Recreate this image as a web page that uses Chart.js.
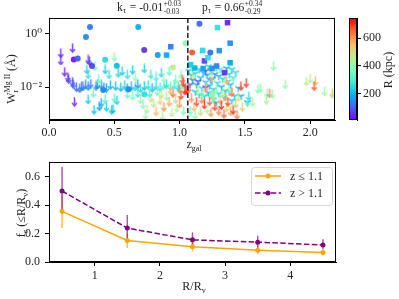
<!DOCTYPE html>
<html><head><meta charset="utf-8">
<script src="https://cdn.jsdelivr.net/npm/chart.js@4.4.1/dist/chart.umd.min.js"></script>
<style>
html,body{margin:0;padding:0;background:#fff;}
#wrap{position:relative;width:399px;height:299px;overflow:hidden;background:#fff;}
.c{position:absolute;}
</style></head><body>
<div id="wrap">
<div class="c" style="left:0;top:0;width:340px;height:160px"><canvas id="top"></canvas></div>
<div class="c" style="left:340px;top:0;width:59px;height:150px"><canvas id="cbar"></canvas></div>
<div class="c" style="left:0;top:150px;width:340px;height:149px"><canvas id="bot"></canvas></div>
</div>
<script>
// ---------------- DATA ----------------
// Detections (circles): z, W (Angstrom), R (kpc)
const circZ = [0.314,0.283,0.19,0.22,0.329,0.43,0.519,0.415,0.683,0.729,0.833,0.949,1.046,1.096,1.152,1.235,0.61,0.73,1.25];
const circW = [1.84,0.77,0.11,0.12,0.062,0.107,0.064,0.0077,1.84,0.25,0.16,0.054,0.45,0.20,2.45,0.20,0.0082,0.0053,0.0054];
const circR = [130,150,30,100,70,250,210,140,190,60,170,470,390,660,110,120,150,260,380];
// Detections (squares)
const sqZ = [1.367,1.29,1.387,1.177,1.304,1.19,1.217,1.116,1.18,1.248,1.283,1.387,1.344,1.084,0.932,0.90];
const sqW = [2.67,1.73,0.45,0.24,0.235,0.096,0.127,0.052,0.05,0.05,0.062,0.082,0.035,0.07,0.33,0.16];
const sqR = [40,260,150,250,160,70,260,200,170,150,140,180,60,230,130,180];
// Upper limits (arrows)
const arrZ = [0.09,0.09,0.18,0.30,0.31,0.12,0.145,0.15,0.18,0.185,0.21,0.235,0.25,0.28,0.30,0.32,0.36,0.37,0.40,0.44,
0.195,0.30,0.345,0.385,0.44,0.48,0.43,0.50,0.52,0.29,0.30,0.35,0.43,0.50,0.53,0.46,0.38,0.34,0.40,0.49,0.26,0.47,0.51,0.42,
0.55,0.58,0.60,0.63,0.66,0.68,0.70,0.73,0.76,0.79,0.82,0.85,0.88,0.90,0.93,0.96,0.99,1.02,
0.56,0.60,0.64,0.73,0.78,0.82,0.86,0.92,0.97,1.01,0.66,0.88,
0.60,0.64,0.70,0.72,0.75,0.74,0.78,0.80,0.82,0.85,0.87,0.88,0.90,0.92,0.94,0.95,0.97,0.98,1.00,1.01,1.03,1.04,0.83,0.77,0.68,0.93,1.00,0.86,1.03,1.05,1.02,
1.07,1.09,1.11,1.13,1.14,1.16,1.17,1.19,1.20,1.21,1.23,1.24,1.25,1.27,1.28,1.30,1.31,1.32,1.34,1.35,1.36,1.37,1.39,1.40,1.41,1.43,1.44,1.45,1.47,1.48,1.08,1.12,1.18,1.26,1.33,1.38,1.25,1.10,1.36,
1.53,1.52,1.51,1.60,1.62,1.665,1.67,1.69,1.71,1.72,1.81,1.97,2.00,2.04,2.03,2.11,2.17,2.17,1.56];
const arrW = [0.19,0.10,0.30,0.11,0.096,0.038,0.024,0.020,0.016,0.013,0.010,0.009,0.011,0.0125,0.011,0.0135,0.011,0.0126,0.0125,0.0095,
0.0028,0.0034,0.0014,0.0019,0.0018,0.0014,0.0035,0.0040,0.0032,0.046,0.030,0.062,0.046,0.14,0.035,0.030,0.020,0.0061,0.0026,0.0015,0.0105,0.012,0.011,0.010,
0.010,0.012,0.009,0.011,0.0105,0.013,0.009,0.011,0.012,0.0095,0.0115,0.010,0.012,0.0135,0.011,0.0125,0.0105,0.012,
0.040,0.030,0.045,0.050,0.030,0.025,0.035,0.040,0.020,0.030,0.025,0.022,
0.0055,0.0048,0.0035,0.0022,0.0015,0.0009,0.0040,0.0025,0.0012,0.0032,0.0008,0.0018,0.0045,0.0028,0.0011,0.0060,0.0035,0.0016,0.0024,0.0050,0.0013,0.0075,0.0070,0.0060,0.0060,0.0075,0.0085,0.0055,0.015,0.008,0.020,
0.009,0.004,0.0018,0.0028,0.0075,0.0012,0.0035,0.0022,0.0095,0.0015,0.003,0.0011,0.0055,0.0019,0.0085,0.0013,0.0032,0.0021,0.0010,0.0045,0.0017,0.0028,0.0012,0.0065,0.0014,0.0024,0.0009,0.0042,0.011,0.0018,0.0013,0.0009,0.0060,0.0040,0.0060,0.0085,0.023,0.030,0.018,
0.0046,0.0028,0.0146,0.0085,0.009,0.0033,0.006,0.0058,0.0055,0.062,0.0126,0.0163,0.021,0.017,0.011,0.0069,0.006,0.0055,0.0027];
const arrR = [40,45,50,60,70,40,60,70,90,100,110,120,130,140,150,120,160,140,180,170,
45,220,210,170,230,220,300,330,230,230,250,330,220,380,240,260,340,330,180,210,140,200,210,150,
200,230,180,210,240,160,250,220,260,200,230,270,300,250,320,280,240,350,
230,260,220,230,270,300,250,330,360,380,400,420,
330,360,420,380,450,400,500,470,560,520,430,600,400,580,470,640,520,440,600,680,380,700,350,300,280,560,620,480,700,720,650,
650,600,550,680,420,500,620,700,580,450,660,600,520,680,400,620,560,700,650,600,520,680,580,640,700,550,620,480,690,530,350,400,380,350,420,380,520,480,560,
250,330,690,370,400,450,380,620,400,400,400,470,450,560,660,400,530,470,440];
// Upper limits (tri-down markers)
const triZ = [1.07,1.09,1.10,1.12,1.13,1.15,1.16,1.17,1.18,1.20,1.21,1.22,1.23,1.24,1.25,1.26,1.27,1.28,1.29,1.30,1.31,1.32,1.33,1.34,1.35,1.36,1.37,1.38,1.39,1.40,1.41,1.43,1.45,
1.12,1.15,1.19,1.22,1.26,1.30,1.34,1.38,1.42,1.08,1.14,1.20,1.24,1.10,1.28,1.40,1.47,1.52,1.20];
const triW = [0.04,0.028,0.018,0.032,0.012,0.045,0.022,0.009,0.035,0.015,0.028,0.06,0.011,0.04,0.02,0.008,0.03,0.055,0.014,0.025,0.045,0.01,0.02,0.035,0.007,0.05,0.016,0.03,0.012,0.045,0.022,0.035,0.009,
0.0065,0.005,0.0045,0.006,0.0035,0.0055,0.004,0.0065,0.0045,0.012,0.016,0.04,0.018,0.05,0.0025,0.003,0.0045,0.0026,0.0094];
const triR = [220,200,170,250,190,240,210,260,200,230,180,250,220,270,200,240,160,230,250,210,280,190,230,260,220,200,250,240,210,230,270,250,220,
200,230,180,210,250,230,260,200,240,100,80,90,120,300,200,220,180,200,60];
// Bottom panel: covering fraction vs R/Rv
const binR = [0.5,1.5,2.5,3.5,4.5];
const fcLow = [0.357,0.152,0.108,0.083,0.067];
const fcLowLo = [0.24,0.099,0.076,0.055,0.046];
const fcLowHi = [0.47,0.20,0.14,0.11,0.088];
const fcHigh = [0.50,0.239,0.156,0.140,0.120];
const fcHighLo = [0.36,0.16,0.11,0.10,0.09];
const fcHighHi = [0.669,0.331,0.209,0.186,0.16];
const zSplit = 1.063;
const kTau = ['-0.01','+0.03','-0.03'];
const pTau = ['0.66','+0.34','-0.29'];
const xTicksTop = [0,0.5,1,1.5,2];
const yTicksTop = [0.01,1];
const cbTicks = [200,400,600];
const xTicksBot = [1,2,3,4];
const yTicksBot = [0,0.2,0.4,0.6];
const Rmin = 14, Rmax = 743;

// ---------------- helpers ----------------
const FAM = "'Liberation Serif', 'DejaVu Serif', serif";
const TXT = '#222';
Chart.defaults.font.family = FAM;
Chart.defaults.font.size = 12;
Chart.defaults.color = TXT;

function rainbow(t){
  t = Math.max(0, Math.min(1, t));
  const r = Math.min(1, Math.abs(2*t - 0.5));
  const g = Math.sin(Math.PI*t);
  const b = Math.cos(Math.PI*t/2);
  return [Math.round(r*255), Math.round(g*255), Math.round(b*255)];
}
function col(R, a){
  const c = rainbow((R - Rmin)/(Rmax - Rmin));
  return `rgba(${c[0]},${c[1]},${c[2]},${a})`;
}
const imgCache = {};
function arrImg(color){
  const k = 'a'+color; if (imgCache[k]) return imgCache[k];
  const cv = document.createElement('canvas'); cv.width = 7; cv.height = 10;
  const c = cv.getContext('2d');
  c.strokeStyle = color; c.lineWidth = 1.5; c.lineJoin = 'miter';
  c.beginPath(); c.moveTo(3.5,0.5); c.lineTo(3.5,8.8);
  c.moveTo(1,6.2); c.lineTo(3.5,9); c.lineTo(6,6.2); c.stroke();
  imgCache[k] = cv; return cv;
}
function triImg(color){
  const k = 't'+color; if (imgCache[k]) return imgCache[k];
  const cv = document.createElement('canvas'); cv.width = 9; cv.height = 9;
  const c = cv.getContext('2d');
  c.strokeStyle = color; c.lineWidth = 1.5;
  c.beginPath();
  c.moveTo(4.5,4.5); c.lineTo(4.5,8.2);
  c.moveTo(4.5,4.5); c.lineTo(4.5-3.2,4.5-1.85);
  c.moveTo(4.5,4.5); c.lineTo(4.5+3.2,4.5-1.85);
  c.stroke();
  imgCache[k] = cv; return cv;
}
function pts(zs, ws){ return zs.map((z,i)=>({x:z, y:ws[i]})); }

function measureParts(ctx, parts){
  let w = 0;
  for (const p of parts){
    if (p.stack){
      ctx.font = p.size+'px '+FAM;
      w += Math.max(ctx.measureText(p.sup).width, ctx.measureText(p.sub).width);
    } else {
      ctx.font = p[1]+'px '+FAM; w += ctx.measureText(p[0]).width + (p[3]||0);
    }
  }
  return w;
}
function drawParts(ctx, parts, x, y){
  ctx.textBaseline = 'alphabetic'; ctx.textAlign = 'left'; ctx.fillStyle = TXT;
  for (const p of parts){
    if (p.stack){
      ctx.font = p.size+'px '+FAM;
      ctx.fillText(p.sup, x, y - p.up);
      ctx.fillText(p.sub, x, y + p.down);
      x += Math.max(ctx.measureText(p.sup).width, ctx.measureText(p.sub).width);
    } else {
      ctx.font = p[1]+'px '+FAM;
      ctx.fillText(p[0], x, y + (p[2]||0));
      x += ctx.measureText(p[0]).width + (p[3]||0);
    }
  }
  return x;
}
function drawCentered(ctx, parts, cx, y){
  const w = measureParts(ctx, parts); drawParts(ctx, parts, cx - w/2, y);
}
function drawVertical(ctx, parts, bx, cy){
  ctx.save(); ctx.translate(bx, cy); ctx.rotate(-Math.PI/2);
  const w = measureParts(ctx, parts); drawParts(ctx, parts, -w/2, 0);
  ctx.restore();
}
function axisStyle(extra){
  return Object.assign({
    grid:{drawOnChartArea:false, drawTicks:true, tickLength:4, color:'#000', lineWidth:1},
    border:{display:true, color:'#000', width:1},
    ticks:{autoSkip:false, maxRotation:0, minRotation:0, color:TXT, font:{size:12, family:FAM}}
  }, extra);
}
function frame(chart){
  const a = chart.chartArea, ctx = chart.ctx;
  ctx.save(); ctx.strokeStyle = '#000'; ctx.lineWidth = 1;
  ctx.strokeRect(Math.round(a.left)+0.5, Math.round(a.top)+0.5, Math.round(a.right-a.left)-1, Math.round(a.bottom-a.top)-1);
  ctx.restore();
}

// ---------------- TOP: scatter ----------------
const topPlugin = {
  id:'topExtras',
  afterDatasetsDraw(chart){
    const ctx = chart.ctx, a = chart.chartArea, xs = chart.scales.x;
    const px = xs.getPixelForValue(zSplit);
    ctx.save(); ctx.strokeStyle = '#111'; ctx.lineWidth = 1.4; ctx.setLineDash([5,2.5]);
    ctx.beginPath(); ctx.moveTo(px, a.top); ctx.lineTo(px, a.bottom); ctx.stroke(); ctx.restore();
  },
  afterDraw(chart){
    const ctx = chart.ctx;
    frame(chart);
    let x = drawParts(ctx, [['k',11.5,0],['τ',8,2.5,1],[' = '+kTau[0],11.5,0,0.5]], 117, 10.5);
    drawParts(ctx, [{stack:true, sup:kTau[1], sub:kTau[2], size:7.5, up:5, down:3.5}], x, 10.5);
    x = drawParts(ctx, [['p',11.5,0],['τ',8,2.5,1],[' = '+pTau[0],11.5,0,0.5]], 202, 10.5);
    drawParts(ctx, [{stack:true, sup:pTau[1], sub:pTau[2], size:7.5, up:5, down:3.5}], x, 10.5);
    drawCentered(ctx, [['z',12,0],['gal',8,3]], 194, 148);
    drawVertical(ctx, [['W',12,0],{stack:true, sup:'Mg II', sub:'r', size:8, up:5, down:3},[' (Å)',12,0]], 15, 79);
  }
};
new Chart(document.getElementById('top'), {
  type:'scatter',
  data:{datasets:[
    {label:'det low z', data:pts(circZ,circW), pointStyle:'circle', pointRadius:3,
      backgroundColor:(c)=>c.dataIndex===undefined?'#000':col(circR[c.dataIndex],0.95), borderWidth:0, order:0},
    {label:'det high z', data:pts(sqZ,sqW), pointStyle:'rect', pointRadius:3.9,
      backgroundColor:(c)=>c.dataIndex===undefined?'#000':col(sqR[c.dataIndex],0.95), borderWidth:0, order:1},
    {label:'ul arrow', data:pts(arrZ,arrW),
      pointStyle:(c)=>c.dataIndex===undefined?'circle':arrImg(col(arrR[c.dataIndex],0.85)), pointRadius:4, order:2},
    {label:'ul tri', data:pts(triZ,triW),
      pointStyle:(c)=>c.dataIndex===undefined?'circle':triImg(col(triR[c.dataIndex],0.9)), pointRadius:4, order:3}
  ]},
  options:{
    responsive:true, maintainAspectRatio:false, animation:false, events:[],
    layout:{padding:{left:0, top:18, right:2, bottom:0}},
    plugins:{legend:{display:false}, tooltip:{enabled:false}},
    scales:{
      x: axisStyle({type:'linear', min:0, max:2.19,
        afterBuildTicks:(s)=>{s.ticks = xTicksTop.map(v=>({value:v}));},
        afterFit:(s)=>{s.height = 40;},
        ticks:{autoSkip:false, maxRotation:0, minRotation:0, padding:2, color:TXT, font:{size:12,family:FAM}, callback:(v)=>Number(v).toFixed(1)}}),
      y: axisStyle({type:'logarithmic', min:5.7e-4, max:4.0,
        afterBuildTicks:(s)=>{s.ticks = yTicksTop.map(v=>({value:v}));},
        afterFit:(s)=>{s.width = 49;},
        ticks:{autoSkip:false, padding:3, color:TXT, font:{size:12,family:FAM}, callback:(v)=> v===1?'10⁰':(v===0.01?'10⁻²':'')}})
    }
  },
  plugins:[topPlugin]
});

// ---------------- COLORBAR ----------------
const cbPlugin = {
  id:'cb',
  beforeDatasetsDraw(chart){
    const ctx = chart.ctx, a = chart.chartArea;
    const g = ctx.createLinearGradient(0, a.bottom, 0, a.top);
    for (let i=0;i<=32;i++){ const t=i/32; const c = rainbow(t); g.addColorStop(t, `rgb(${c[0]},${c[1]},${c[2]})`); }
    ctx.save(); ctx.fillStyle = g; ctx.fillRect(a.left, a.top, a.right-a.left, a.bottom-a.top); ctx.restore();
  },
  afterDraw(chart){
    const ctx = chart.ctx, a = chart.chartArea;
    ctx.save(); ctx.strokeStyle='#000'; ctx.lineWidth=1;
    ctx.strokeRect(a.left+0.5, a.top+0.5, a.right-a.left-1, a.bottom-a.top-1); ctx.restore();
    drawVertical(ctx, [['R (kpc)',12,0]], 52, 70);
  }
};
new Chart(document.getElementById('cbar'), {
  type:'scatter',
  data:{datasets:[{data:[]}]},
  options:{
    responsive:true, maintainAspectRatio:false, animation:false, events:[],
    layout:{padding:{left:9, top:18, right:0, bottom:30}},
    plugins:{legend:{display:false}, tooltip:{enabled:false}},
    scales:{
      x:{display:false, min:0, max:1},
      y: axisStyle({type:'linear', position:'right', min:Rmin, max:Rmax,
        afterBuildTicks:(s)=>{s.ticks = cbTicks.map(v=>({value:v}));},
        afterFit:(s)=>{s.width = 42;},
        ticks:{autoSkip:false, padding:2, color:TXT, font:{size:12,family:FAM}, callback:(v)=>String(v)}})
    }
  },
  plugins:[cbPlugin]
});

// ---------------- BOTTOM: covering fraction ----------------
const botPlugin = {
  id:'botExtras',
  beforeDatasetsDraw(chart){
    const ctx = chart.ctx, xs = chart.scales.x, ys = chart.scales.y;
    const sets = [[fcLowLo, fcLowHi, 'rgba(255,165,0,0.75)'], [fcHighLo, fcHighHi, 'rgba(128,0,128,0.65)']];
    ctx.save(); ctx.lineWidth = 1.5;
    for (const [lo, hi, c] of sets){
      ctx.strokeStyle = c;
      binR.forEach((r,i)=>{
        const px = xs.getPixelForValue(r);
        ctx.beginPath(); ctx.moveTo(px, ys.getPixelForValue(lo[i])); ctx.lineTo(px, ys.getPixelForValue(hi[i])); ctx.stroke();
      });
    }
    ctx.restore();
  },
  afterDraw(chart){
    const ctx = chart.ctx;
    frame(chart);
    ctx.save();
    ctx.beginPath(); ctx.roundRect(251.5, 17.5, 81, 38, 3);
    ctx.fillStyle = 'rgba(255,255,255,0.8)'; ctx.fill();
    ctx.strokeStyle = '#d6d6d6'; ctx.lineWidth = 1; ctx.stroke();
    const ds = chart.data.datasets;
    const rows = [[26, ds[0]], [43, ds[1]]];
    for (const [y, d] of rows){
      ctx.strokeStyle = d.borderColor; ctx.lineWidth = 1.5; ctx.setLineDash(d.borderDash||[]);
      ctx.beginPath(); ctx.moveTo(255, y); ctx.lineTo(281, y); ctx.stroke(); ctx.setLineDash([]);
      ctx.fillStyle = d.borderColor; ctx.beginPath(); ctx.arc(268, y, 2.5, 0, Math.PI*2); ctx.fill();
      ctx.fillStyle = TXT; ctx.font = '12px '+FAM; ctx.textBaseline = 'middle'; ctx.textAlign='left';
      ctx.fillText(d.label, 290, y+0.5);
    }
    ctx.restore();
    drawCentered(ctx, [['R/R',12,0],['v',8,3]], 194, 140);
    drawVertical(ctx, [['f',12,0],['c',8,3],[' (≤R/R',12,0],['v',8,3],[')',12,0]], 25, 63);
  }
};
new Chart(document.getElementById('bot'), {
  type:'line',
  data:{datasets:[
    {label:'z ≤ 1.1', data:binR.map((r,i)=>({x:r,y:fcLow[i]})), borderColor:'#ffa500', backgroundColor:'#ffa500',
      borderWidth:1.5, pointRadius:2.5, pointBorderWidth:0, pointBackgroundColor:'#ffa500', tension:0, order:1},
    {label:'z > 1.1', data:binR.map((r,i)=>({x:r,y:fcHigh[i]})), borderColor:'#800080', backgroundColor:'#800080',
      borderWidth:1.5, borderDash:[5.5,2.4], pointRadius:2.5, pointBorderWidth:0, pointBackgroundColor:'#800080', tension:0, order:0}
  ]},
  options:{
    responsive:true, maintainAspectRatio:false, animation:false, events:[],
    layout:{padding:{left:0, top:10, right:2, bottom:0}},
    plugins:{legend:{display:false}, tooltip:{enabled:false}},
    scales:{
      x: axisStyle({type:'linear', min:0.3, max:4.7,
        afterBuildTicks:(s)=>{s.ticks = xTicksBot.map(v=>({value:v}));},
        afterFit:(s)=>{s.height = 37;},
        ticks:{autoSkip:false, maxRotation:0, minRotation:0, padding:3, color:TXT, font:{size:12,family:FAM}, callback:(v)=>String(v)}}),
      y: axisStyle({type:'linear', min:0, max:0.703,
        afterBuildTicks:(s)=>{s.ticks = yTicksBot.map(v=>({value:v}));},
        afterFit:(s)=>{s.width = 49;},
        ticks:{autoSkip:false, padding:5, color:TXT, font:{size:12,family:FAM}, callback:(v)=>Number(v).toFixed(1)}})
    }
  },
  plugins:[botPlugin]
});
</script>
</body></html>
